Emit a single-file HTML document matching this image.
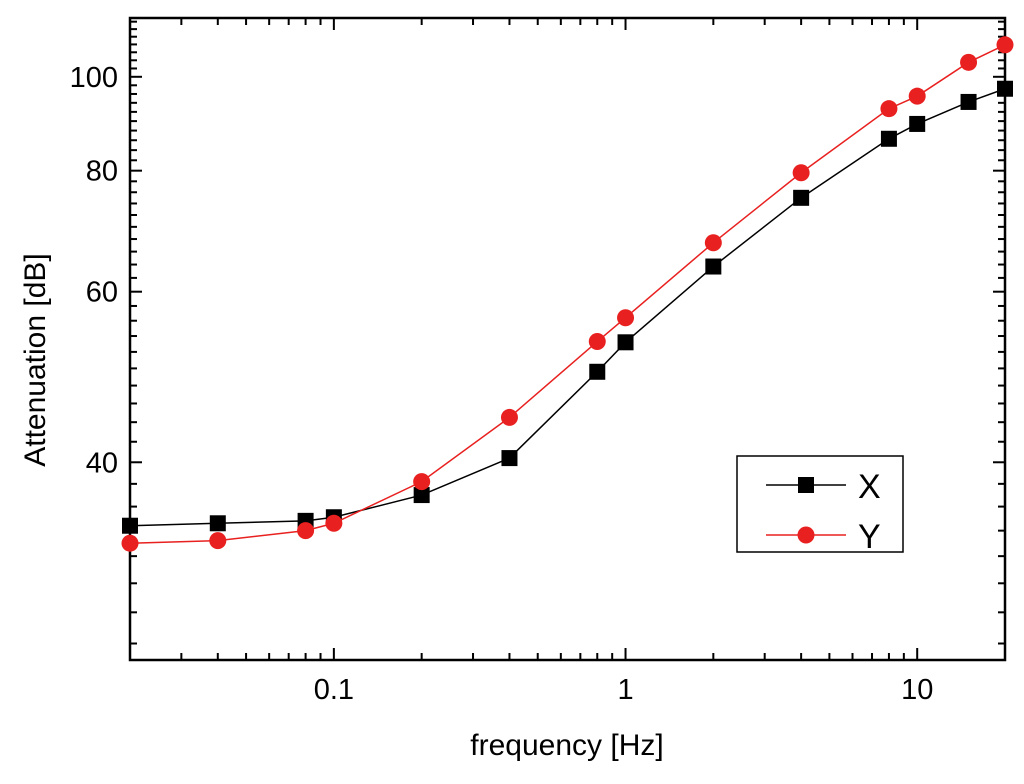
<!DOCTYPE html>
<html><head><meta charset="utf-8"><style>
body{margin:0;background:#fff;width:1024px;height:779px;overflow:hidden}
text{font-family:"Liberation Sans",Arial,sans-serif;fill:#000}
</style></head><body>
<svg id="chart" width="1024" height="779" xmlns="http://www.w3.org/2000/svg"></svg>
<script>
const freqs=[0.02,0.04,0.08,0.1,0.2,0.4,0.8,1,2,4,8,10,15,20];
const seriesX=[34.4,34.6,34.8,35.1,37.0,40.4,49.6,53.2,63.7,75.0,86.3,89.4,94.2,97.2];
const seriesY=[33.0,33.2,34.0,34.6,38.2,44.5,53.3,56.4,67.4,79.6,92.7,95.5,103.5,107.9];
const xTickVals=[0.1,1,10];
const xTickLabels=["0.1","1","10"];
const yTickVals=[40,60,80,100];
const yTickLabels=["40","60","80","100"];
const L=130,R=1005,T=18,B=660;
const xMin=0.02,xMax=20,yMin=25,yMax=115;
function sx(v){return L+(Math.log10(v)-Math.log10(xMin))/(Math.log10(xMax)-Math.log10(xMin))*(R-L);}
function sy(v){return B-(Math.log10(v)-Math.log10(yMin))/(Math.log10(yMax)-Math.log10(yMin))*(B-T);}
const svg=document.getElementById('chart');
const NS='http://www.w3.org/2000/svg';
function mk(tag,a,parent){const e=document.createElementNS(NS,tag);for(const k in a)e.setAttribute(k,a[k]);(parent||svg).appendChild(e);return e;}
const tg=mk('g',{stroke:'#000','stroke-width':2});


for(let d=-2;d<=1;d++)for(let m=1;m<=9;m++){const v=m*Math.pow(10,d);if(v<xMin||v>xMax)continue;const x=sx(v);const len=(m===1)?12:7;
mk('line',{x1:x,x2:x,y1:B,y2:B-len},tg);mk('line',{x1:x,x2:x,y1:T,y2:T+len},tg);}
for(let v=26;v<=114;v+=2){const y=sy(v);const len=(v%20===0&&v>=40)?12:7;
mk('line',{x1:L,x2:L+len,y1:y,y2:y},tg);mk('line',{x1:R,x2:R-len,y1:y,y2:y},tg);}
mk('rect',{x:L,y:T,width:R-L,height:B-T,fill:'none',stroke:'#000','stroke-width':2.5});
xTickVals.forEach((v,i)=>{const t=mk('text',{x:sx(v),y:699,'font-size':29,'text-anchor':'middle'});t.textContent=xTickLabels[i];
});
yTickVals.forEach((v,i)=>{const t=mk('text',{x:118,y:sy(v)+10,'font-size':29,'text-anchor':'end'});t.textContent=yTickLabels[i];
});
const xt=mk('text',{x:567,y:755,'font-size':30,'text-anchor':'middle'});xt.textContent='frequency [Hz]';

const yt=mk('text',{x:0,y:0,'font-size':30,'text-anchor':'middle',transform:'translate(45,360) rotate(-90)'});yt.textContent='Attenuation [dB]';

function series(vals,color,shape,name){
 const g=mk('g',{});
 mk('polyline',{points:freqs.map((f,i)=>sx(f)+','+sy(vals[i])).join(' '),fill:'none',stroke:color,'stroke-width':1.5},g);
 freqs.forEach((f,i)=>{const x=sx(f),y=sy(vals[i]);let p;
  if(shape==='sq')p=mk('rect',{x:x-8,y:y-8,width:16,height:16,fill:color},g);
  else p=mk('circle',{cx:x,cy:y,r:8.5,fill:color},g);
  });
}
series(seriesX,'#000','sq','series-x');
series(seriesY,'#e8201f','ci','series-y');
const lg=mk('g',{});
mk('rect',{x:737,y:456,width:166,height:96,fill:'#fff',stroke:'#000','stroke-width':1.5},lg);
mk('line',{x1:766,x2:846,y1:485,y2:485,stroke:'#000','stroke-width':1.5},lg);
mk('rect',{x:798,y:477,width:16,height:16,fill:'#000'},lg);
mk('line',{x1:766,x2:846,y1:535,y2:535,stroke:'#e8201f','stroke-width':1.5},lg);
mk('circle',{cx:806,cy:535,r:8.5,fill:'#e8201f'},lg);
const l1=mk('text',{x:858,y:498,'font-size':34},lg);l1.textContent='X';

const l2=mk('text',{x:858,y:548,'font-size':34},lg);l2.textContent='Y';

</script>
</body></html>
